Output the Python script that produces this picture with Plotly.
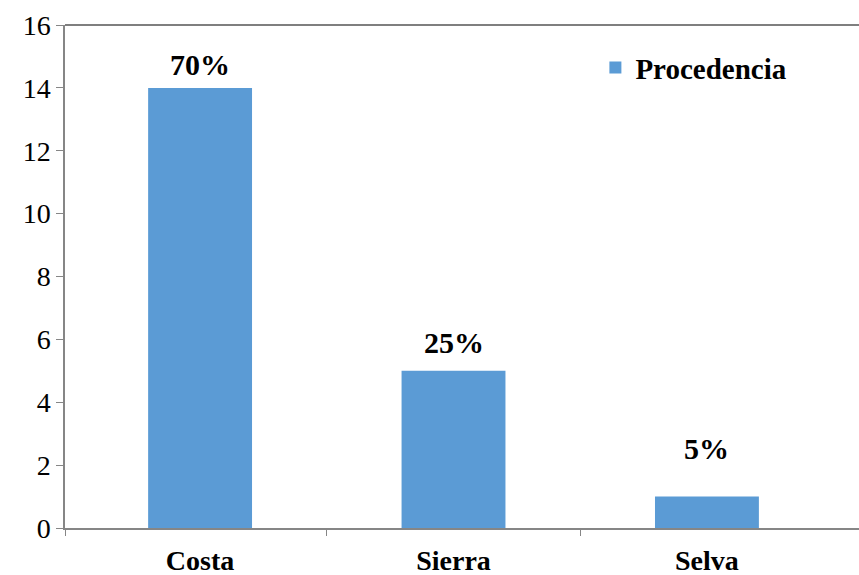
import plotly.graph_objects as go

# Procedencia de los participantes
categorias = ["Costa", "Sierra", "Selva"]
cantidades = [14, 5, 1]
porcentajes = ["70%", "25%", "5%"]
serie = "Procedencia"

y_ticks = [0, 2, 4, 6, 8, 10, 12, 14, 16]

FONT = "Liberation Serif, Times New Roman, serif"
BLUE = "#5B9BD5"
AXIS_GRAY = "#868686"

fig = go.Figure()

fig.add_trace(go.Bar(
    x=categorias,
    y=cantidades,
    name=f"<b>{serie}</b>",
    marker=dict(color=BLUE, line=dict(width=0)),
    width=0.41,
    showlegend=True,
))

# invisible helper trace on a linear overlay axis to carry boundary ticks
fig.add_trace(go.Scatter(x=[0], y=[0], xaxis="x2", mode="markers",
                         marker=dict(opacity=0), showlegend=False,
                         hoverinfo="skip"))

# percentage labels above each bar (pixel offsets above the bar top)
label_offsets = [23, 28, 48]
for cat, val, pct, off in zip(categorias, cantidades, porcentajes, label_offsets):
    fig.add_annotation(
        x=cat, y=val, text=f"<b>{pct}</b>", showarrow=False,
        yshift=off, font=dict(family=FONT, size=30, color="black"),
        xanchor="center", yanchor="middle",
    )

x_range = [-0.533, 2.6]

fig.update_layout(
    width=859, height=575,
    margin=dict(l=65, r=0, t=25, b=47, autoexpand=False),
    paper_bgcolor="white", plot_bgcolor="white",
    font=dict(family=FONT, color="black"),
    xaxis=dict(
        type="category", range=x_range, automargin=False,
        showline=True, linecolor=AXIS_GRAY, linewidth=2,
        ticks="", ticklen=0, showgrid=False, zeroline=False,
        tickfont=dict(family=FONT, size=28, color="black"),
        tickvals=categorias,
        ticktext=[f"<b>{c}</b>" for c in categorias],
        ticklabelstandoff=6,
    ),
    xaxis2=dict(
        overlaying="x", range=x_range, type="linear",
        tickvals=[-0.533, 0.5, 1.5], ticks="outside", ticklen=7,
        tickcolor=AXIS_GRAY, tickwidth=1, showticklabels=False,
        showgrid=False, zeroline=False, showline=False, side="bottom",
    ),
    yaxis=dict(
        range=[0, 16], tickvals=y_ticks, automargin=False,
        showline=True, linecolor=AXIS_GRAY, linewidth=1.5,
        ticks="outside", ticklen=7, tickcolor=AXIS_GRAY, tickwidth=1,
        showgrid=False, zeroline=False,
        tickfont=dict(family=FONT, size=28, color="black"),
    ),
    legend=dict(
        x=0.668, y=0.915, xanchor="left", yanchor="middle",
        bgcolor="rgba(0,0,0,0)",
        font=dict(family=FONT, size=29, color="black"),
        itemwidth=30,
    ),
    shapes=[dict(type="line", xref="paper", yref="paper",
                 x0=0, x1=1, y0=1, y1=1,
                 line=dict(color="black", width=1.2))],
)

fig.write_html("out.html")
